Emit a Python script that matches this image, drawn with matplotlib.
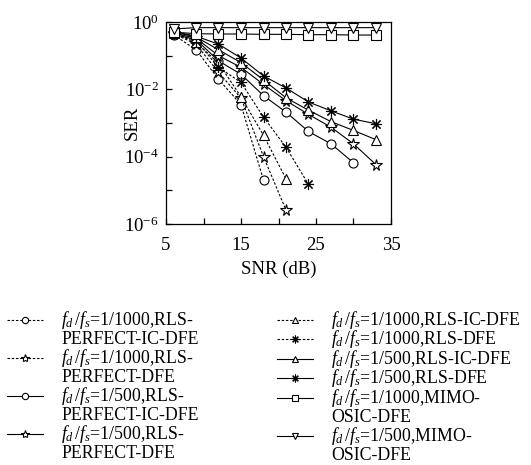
import matplotlib
matplotlib.use('Agg')
import numpy as np
import matplotlib.pyplot as plt
from matplotlib.lines import Line2D
from matplotlib.legend_handler import HandlerLine2D

plt.rcParams['font.family'] = ['Liberation Serif', 'DejaVu Serif']
plt.rcParams['mathtext.fontset'] = 'custom'
plt.rcParams['mathtext.rm'] = 'Liberation Serif'
plt.rcParams['mathtext.it'] = 'Liberation Serif:italic'
plt.rcParams['mathtext.bf'] = 'Liberation Serif:bold'

# ---- data ----
snr = [6, 9, 12, 15, 18, 21, 24, 27, 30, 33]
ser_1000_perf_ic = [0.42, 0.15, 0.02, 3.5e-3, 2e-5]
ser_1000_perf_dfe = [0.45, 0.22, 0.032, 5.5e-3, 1.0e-4, 2.6e-6]
ser_500_perf_ic = [0.43, 0.30, 0.07, 0.028, 6.5e-3, 2.1e-3, 5.6e-4, 2.4e-4, 6.6e-5]
ser_500_perf_dfe = [0.47, 0.33, 0.10, 0.045, 0.014, 4.6e-3, 1.8e-3, 7.5e-4, 2.4e-4, 5.8e-5]
ser_1000_ic = [0.46, 0.25, 0.06, 6e-3, 4.3e-4, 2.2e-5]
ser_1000_dfe = [0.48, 0.28, 0.045, 0.016, 1.5e-3, 1.9e-4, 1.5e-5]
ser_500_ic = [0.50, 0.36, 0.15, 0.062, 0.019, 5.6e-3, 2.4e-3, 1.1e-3, 6e-4, 3.2e-4]
ser_500_dfe = [0.52, 0.38, 0.22, 0.085, 0.025, 0.011, 4.2e-3, 2.3e-3, 1.3e-3, 9.5e-4]
ser_1000_mimo = [0.50, 0.45, 0.44, 0.44, 0.43, 0.43, 0.42, 0.42, 0.41, 0.41]
ser_500_mimo = [0.62, 0.68, 0.68, 0.68, 0.68, 0.68, 0.68, 0.68, 0.68, 0.68]

xtick_vals = [5, 10, 15, 20, 25, 30, 35]
xtick_labels = ['5', '', '15', '', '25', '', '35']
ytick_vals = [1e-6, 1e-5, 1e-4, 1e-3, 1e-2, 1e-1, 1e0]
ytick_labels = [r'$10^{-6}$', '', r'$10^{-4}$', '', r'$10^{-2}$', '', r'$10^{0}$']

FD = r'$f_d\,/f_s$'
left_series = [
    (ser_1000_perf_ic, 'o', 'dash', [FD + '=1/1000,RLS-', 'PERFECT-IC-DFE']),
    (ser_1000_perf_dfe, '*', 'dash', [FD + '=1/1000,RLS-', 'PERFECT-DFE']),
    (ser_500_perf_ic, 'o', 'solid', [FD + '=1/500,RLS-', 'PERFECT-IC-DFE']),
    (ser_500_perf_dfe, '*', 'solid', [FD + '=1/500,RLS-', 'PERFECT-DFE']),
]
right_series = [
    (ser_1000_ic, '^', 'dash', [FD + '=1/1000,RLS-IC-DFE']),
    (ser_1000_dfe, (8, 2, 0), 'dash', [FD + '=1/1000,RLS-DFE']),
    (ser_500_ic, '^', 'solid', [FD + '=1/500,RLS-IC-DFE']),
    (ser_500_dfe, (8, 2, 0), 'solid', [FD + '=1/500,RLS-DFE']),
    (ser_1000_mimo, 's', 'solid', [FD + '=1/1000,MIMO-', 'OSIC-DFE']),
    (ser_500_mimo, 'v', 'solid', [FD + '=1/500,MIMO-', 'OSIC-DFE']),
]

W, H = 531, 465
fig = plt.figure(figsize=(W / 100, H / 100), dpi=100)
ax = fig.add_axes([166 / W, 1 - 224 / H, (391 - 166) / W, (224 - 22) / H])


def style(marker, ls):
    kw = dict(color='black', linewidth=0.8, marker=marker, markersize=6.5,
              markerfacecolor='white', markeredgecolor='black', markeredgewidth=0.8)
    if marker == '*':
        kw['markersize'] = 8.5
    if isinstance(marker, tuple):
        kw['markersize'] = 8
    if ls == 'dash':
        kw['linestyle'] = (0, (2.2, 1.6))
    else:
        kw['linestyle'] = '-'
    return kw


class ShiftedLineHandler(HandlerLine2D):
    def create_artists(self, legend, orig_handle, xdescent, ydescent,
                       width, height, fontsize, trans):
        arts = super().create_artists(legend, orig_handle, xdescent, ydescent,
                                      width, height, fontsize, trans)
        for a in arts:
            a.set_ydata(np.asarray(a.get_ydata(), dtype=float) - 0.2 * fontsize)
        return arts


def make_handles(series):
    handles, labels = [], []
    for vals, m, ls, lab in series:
        ax.plot(snr[:len(vals)], vals, **style(m, ls))
        handles.append(Line2D([], [], **style(m, ls)))
        labels.append(lab[0])
        for extra in lab[1:]:
            handles.append(Line2D([], [], color='none'))
            labels.append(extra)
    return handles, labels


lh, ll = make_handles(left_series)
rh, rl = make_handles(right_series)

ax.set_yscale('log')
ax.set_xlim(5, 35)
ax.set_ylim(1e-6, 1)
ax.set_xticks(xtick_vals)
ax.set_xticklabels(xtick_labels)
ax.set_yticks(ytick_vals)
ax.set_yticklabels(ytick_labels)
ax.minorticks_off()
ax.tick_params(direction='in', length=4, width=0.9, labelsize=13.5, pad=5)
ax.tick_params(axis='x', pad=9)
for s in ax.spines.values():
    s.set_linewidth(0.9)
ax.set_xlabel('SNR (dB)', fontsize=13.5, labelpad=5)
ax.set_ylabel('SER', fontsize=13.5)
ax.yaxis.set_label_coords((141 - 166) / 225, 0.5)

FS = 12.8
leg_kw = dict(frameon=False, fontsize=FS, handlelength=2.0, handletextpad=1.05,
              handleheight=1.5, labelspacing=-0.18, borderpad=0, borderaxespad=0,
              markerscale=0.7, loc='upper left',
              handler_map={Line2D: ShiftedLineHandler()})
top = 1 - 308 / H
leg1 = fig.legend(lh, ll, bbox_to_anchor=(7 / W, top), **leg_kw)
leg2 = fig.legend(rh, rl, bbox_to_anchor=(277 / W, top), **leg_kw)

fig.savefig('out.png', dpi=100)
